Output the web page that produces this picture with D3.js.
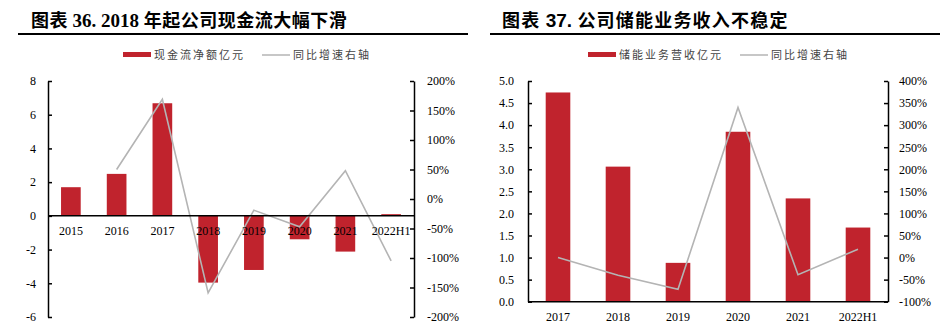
<!DOCTYPE html>
<html><head><meta charset="utf-8">
<script src="https://cdn.jsdelivr.net/npm/d3@7/dist/d3.min.js"></script>
<style>
body{margin:0;background:#fff;}
svg{display:block;}
</style></head>
<body><svg id="c" width="946" height="325"></svg>
<script>
// Chart 36 data
const cats1 = ["2015","2016","2017","2018","2019","2020","2021","2022H1"];
const cash1 = [1.70, 2.49, 6.68, -3.96, -3.21, -1.39, -2.12, 0.10];
const yoy1  = [null, 0.50, 1.69, -1.59, -0.19, -0.47, 0.48, -1.05];
const leftTicks1 = [-6,-4,-2,0,2,4,6,8];
const rightTicks1 = [-2,-1.5,-1,-0.5,0,0.5,1,1.5,2];
const title1 = ["图表 ","36. 2018 ","年起公司现金流大幅下滑"];
const legend1 = ["现金流净额亿元","同比增速右轴"];

// Chart 37 data
const cats2 = ["2017","2018","2019","2020","2021","2022H1"];
const rev2 = [4.74, 3.06, 0.88, 3.85, 2.34, 1.68];
const yoy2 = [0.00, -0.40, -0.72, 3.40, -0.39, 0.19];
const leftTicks2 = [0,0.5,1,1.5,2,2.5,3,3.5,4,4.5,5];
const rightTicks2 = [-1,-0.5,0,0.5,1,1.5,2,2.5,3,3.5,4];
const title2 = ["图表 ","37. ","公司储能业务收入不稳定"];
const legend2 = ["储能业务营收亿元","同比增速右轴"];

const RED = "#c0232d", GRAY = "#b4b4b4";
const SERIF = "'Liberation Serif','Times New Roman',serif";
const CJK = "'Noto Sans CJK SC','Noto Sans',sans-serif";
const svg = d3.select("#c");
const pct = d => (Math.round(d*100)) + "%";

function title(x0, x1, tx, parts, numFont, ls){
  const t = svg.append("text").attr("x", tx).attr("y", 27).attr("font-size", 18).attr("font-weight","bold").attr("fill","#000");
  t.append("tspan").attr("font-family", CJK).attr("letter-spacing", ls).text(parts[0]);
  t.append("tspan").attr("font-family", numFont).attr("font-size",19).text(parts[1]);
  t.append("tspan").attr("font-family", CJK).attr("letter-spacing", ls).text(parts[2]);
  svg.append("line").attr("x1",x0).attr("x2",x1).attr("y1",34).attr("y2",34).attr("stroke","#000").attr("stroke-width",2);
}

function legend(rx, lx, labels){
  svg.append("rect").attr("x",rx).attr("y",52).attr("width",28).attr("height",5).attr("fill",RED);
  svg.append("text").attr("x",rx+31).attr("y",59).attr("font-family",CJK).attr("font-size",11).attr("letter-spacing",2).attr("fill","#444").text(labels[0]);
  svg.append("line").attr("x1",lx).attr("x2",lx+28).attr("y1",55).attr("y2",55).attr("stroke",GRAY).attr("stroke-width",1.5);
  svg.append("text").attr("x",lx+31).attr("y",59).attr("font-family",CJK).attr("font-size",11).attr("letter-spacing",2).attr("fill","#444").text(labels[1]);
}

function chart(o){
  const g = svg.append("g");
  const x = d3.scaleBand().domain(o.cats).range([o.x0,o.x1]).paddingInner(o.pad).paddingOuter(o.pad/2);
  const yL = d3.scaleLinear().domain(o.dL).range([o.yb,o.yt]);
  const yR = d3.scaleLinear().domain(o.dR).range([o.yb,o.yt]);
  g.selectAll("rect.bar").data(o.vals).join("rect").attr("class","bar")
    .attr("x",(d,i)=>x(o.cats[i])).attr("width",x.bandwidth())
    .attr("y",d=>yL(Math.max(0,d))).attr("height",d=>Math.abs(yL(d)-yL(0)))
    .attr("fill",RED);
  const line = d3.line().defined(d=>d[1]!==null).x(d=>x(d[0])+x.bandwidth()/2).y(d=>yR(d[1]));
  g.append("path").datum(o.cats.map((c,i)=>[c,o.yoy[i]])).attr("d",line)
    .attr("fill","none").attr("stroke",GRAY).attr("stroke-width",1.6);
  const aL = g.append("g").attr("transform",`translate(${o.x0},0)`)
    .call(d3.axisLeft(yL).tickValues(o.tL).tickSizeInner(-4).tickSizeOuter(0).tickPadding(o.padL).tickFormat(o.fL));
  const aR = g.append("g").attr("transform",`translate(${o.x1},0)`)
    .call(d3.axisRight(yR).tickValues(o.tR).tickSizeInner(-4).tickSizeOuter(0).tickPadding(o.padR).tickFormat(pct));
  [aL,aR].forEach(a=>{
    a.selectAll("path,line").attr("stroke","#000").attr("stroke-width",1.5);
    a.selectAll("text").attr("font-family",SERIF).attr("font-size",12).attr("fill","#000");
  });
  const yc = yL(o.xAt);
  g.append("line").attr("x1",o.x0).attr("x2",o.x1).attr("y1",yc).attr("y2",yc).attr("stroke","#000").attr("stroke-width",1.5);
  g.selectAll("text.cat").data(o.cats).join("text").attr("class","cat")
    .attr("x",d=>x(d)+x.bandwidth()/2).attr("y",o.labY).attr("text-anchor","middle")
    .attr("font-family",SERIF).attr("font-size",12).attr("fill","#000").text(d=>d);
}

title(18, 468, 31, title1, SERIF, 0.5);
title(490, 940, 502, title2, "'Liberation Sans',Arial,sans-serif", 1.2);
legend(123, 262, legend1);
legend(588, 740, legend2);

chart({cats:cats1, vals:cash1, yoy:yoy1, x0:48, x1:414, yt:81, yb:317, dL:[-6,8], dR:[-2,2],
  tL:leftTicks1, tR:rightTicks1, pad:0.57, padL:12, padR:13, fL:d=>String(d).replace("\u2212","-"), xAt:0, labY:235});
chart({cats:cats2, vals:rev2, yoy:yoy2, x0:528, x1:888, yt:81, yb:301.7, dL:[0,5], dR:[-1,4],
  tL:leftTicks2, tR:rightTicks2, pad:0.59, padL:14, padR:11, fL:d3.format(".1f"), xAt:0, labY:321});
</script></body></html>
